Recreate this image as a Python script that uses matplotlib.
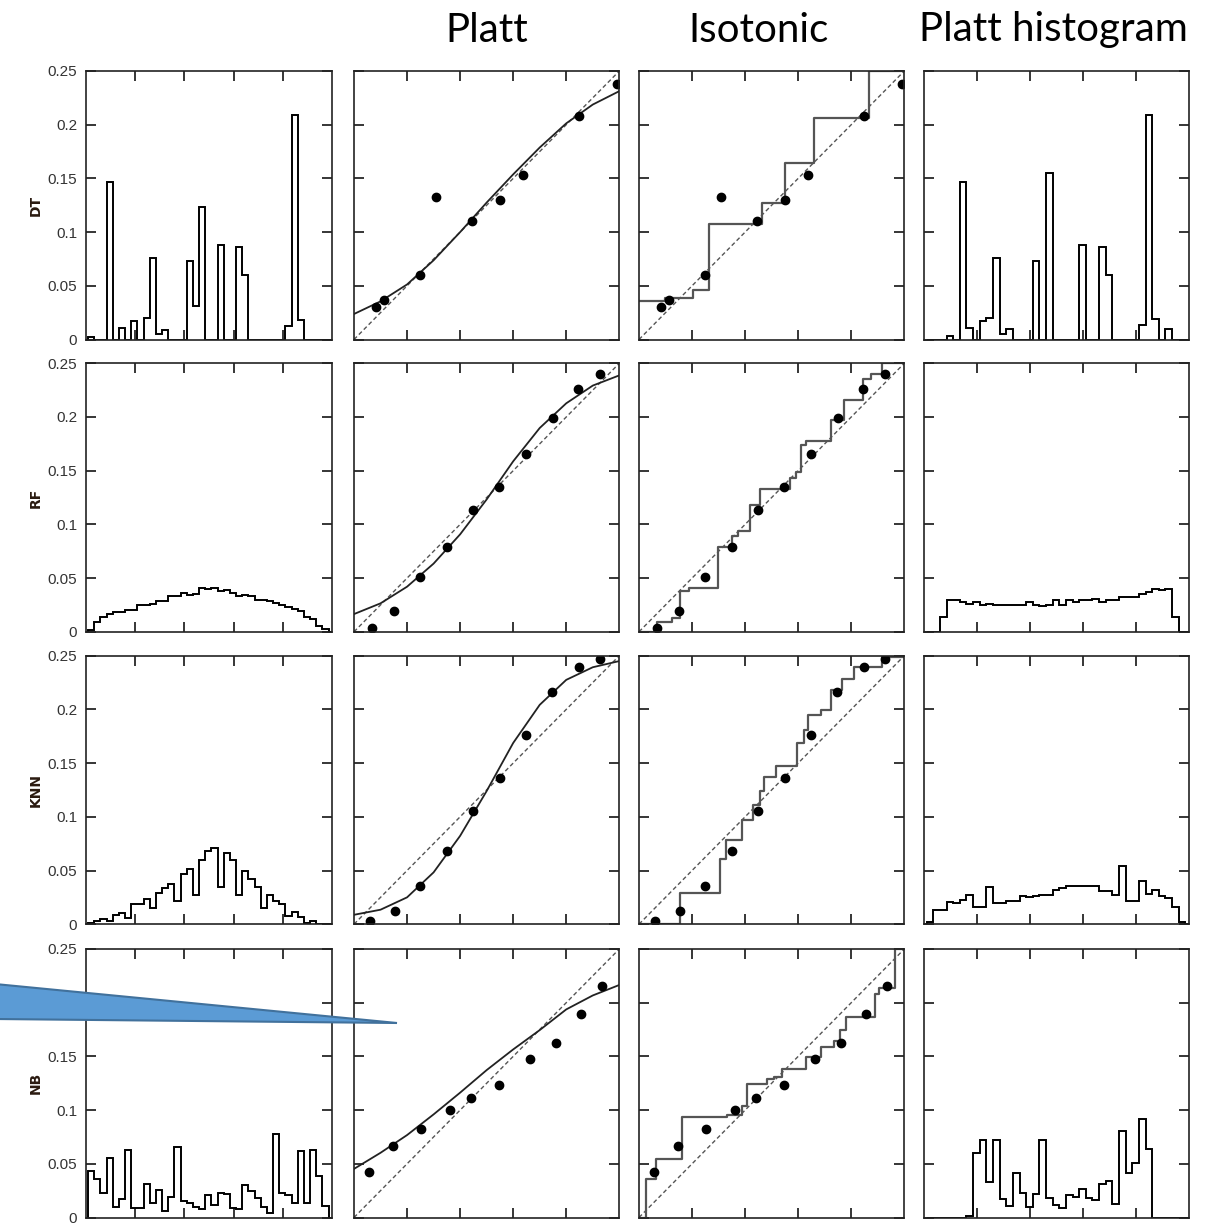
import numpy as np
import matplotlib
matplotlib.use("Agg")
import matplotlib.pyplot as plt
from matplotlib.patches import Polygon

# ---------- data ----------
models = ["DT", "RF", "KNN", "NB"]
col_titles = ["Platt", "Isotonic", "Platt histogram"]

# score histograms, 40 bins (fraction of examples per bin)
dt_hist = [0.0025, 0, 0, 0.147, 0, 0.0106, 0, 0.017, 0, 0.020,
           0.0755, 0.0047, 0.0093, 0, 0, 0, 0.073, 0.031, 0.1236, 0,
           0, 0.0879, 0, 0, 0.086, 0.0596, 0, 0, 0, 0,
           0, 0, 0.013, 0.2087, 0.0186, 0, 0, 0, 0, 0]
rf_hist = [0.0015, 0.0087, 0.014, 0.017, 0.018, 0.018, 0.020, 0.020, 0.025, 0.025,
           0.026, 0.029, 0.029, 0.033, 0.033, 0.0365, 0.034, 0.0356, 0.041, 0.040,
           0.041, 0.0377, 0.039, 0.0365, 0.033, 0.034, 0.033, 0.030, 0.030, 0.029,
           0.0266, 0.025, 0.0235, 0.021, 0.019, 0.014, 0.012, 0.0056, 0.0025, 0]
knn_hist = [0.0015, 0.003, 0.0053, 0.003, 0.0084, 0.0108, 0.0062, 0.0192, 0.0192, 0.0232,
            0.0152, 0.0294, 0.034, 0.0377, 0.0213, 0.047, 0.051, 0.027, 0.0594, 0.068,
            0.0705, 0.0347, 0.0665, 0.0594, 0.027, 0.0495, 0.0418, 0.035, 0.0152, 0.0272,
            0.0217, 0.0186, 0.0077, 0.0114, 0.0068, 0.0015, 0.003, 0.0006, 0, 0]
nb_hist = [0.0435, 0.0354, 0.023, 0.055, 0.010, 0.0168, 0.0627, 0.009, 0.009, 0.031,
           0.0137, 0.026, 0.0059, 0.0193, 0.0655, 0.0152, 0.0137, 0.010, 0.0075, 0.0205,
           0.0112, 0.023, 0.0217, 0.009, 0.0075, 0.0298, 0.0248, 0.0186, 0.010, 0.0043,
           0.0776, 0.023, 0.0205, 0.0137, 0.0618, 0.0137, 0.0627, 0.0388, 0.0109, 0]

# histograms after Platt scaling
dt_platt_hist = [0, 0, 0, 0.0028, 0, 0.147, 0.0109, 0, 0.017, 0.020,
                 0.0757, 0.005, 0.0096, 0, 0, 0, 0.073, 0, 0.155, 0,
                 0, 0, 0, 0.0878, 0, 0, 0.086, 0.060, 0, 0,
                 0, 0, 0.0133, 0.209, 0.019, 0, 0.0096, 0, 0, 0]
rf_platt_hist = [0, 0, 0.0139, 0.0293, 0.0293, 0.0278, 0.026, 0.0278, 0.0247, 0.026,
                 0.0247, 0.0247, 0.0247, 0.0247, 0.0247, 0.0278, 0.0247, 0.0238, 0.0253, 0.0293,
                 0.0247, 0.0293, 0.0278, 0.0293, 0.0293, 0.0302, 0.0278, 0.0293, 0.0293, 0.0324,
                 0.0324, 0.0324, 0.0355, 0.037, 0.040, 0.0386, 0.040, 0.0139, 0, 0]
knn_platt_hist = [0.0025, 0.0133, 0.0133, 0.021, 0.0195, 0.0226, 0.0275, 0.0158, 0.0158, 0.0343,
                  0.0195, 0.0195, 0.0219, 0.0219, 0.0266, 0.025, 0.0266, 0.0275, 0.0275, 0.032,
                  0.034, 0.0358, 0.0358, 0.0358, 0.0358, 0.0358, 0.031, 0.031, 0.027, 0.054,
                  0.0219, 0.0219, 0.040, 0.028, 0.032, 0.026, 0.024, 0.0158, 0.002, 0]
nb_platt_hist = [0, 0, 0, 0, 0, 0, 0.0016, 0.060, 0.072, 0.033,
                 0.072, 0.0168, 0.0109, 0.0416, 0.023, 0.010, 0.0217, 0.072, 0.0183, 0.0112,
                 0.0084, 0.0214, 0.0193, 0.027, 0.0177, 0.0161, 0.031, 0.0339, 0.0124, 0.0804,
                 0.0416, 0.0512, 0.0919, 0.0634, 0, 0, 0, 0, 0, 0]

# reliability points (mean score, fraction positive)
dt_pts_x = [0.082, 0.112, 0.25, 0.309, 0.445, 0.552, 0.637, 0.848, 0.99]
dt_pts_y = [0.121, 0.148, 0.240, 0.529, 0.441, 0.521, 0.613, 0.832, 0.953]
rf_pts_x = [0.066, 0.149, 0.248, 0.35, 0.448, 0.547, 0.65, 0.749, 0.846, 0.929]
rf_pts_y = [0.015, 0.078, 0.205, 0.314, 0.452, 0.540, 0.661, 0.797, 0.905, 0.960]
knn_pts_x = [0.059, 0.153, 0.25, 0.35, 0.449, 0.549, 0.648, 0.748, 0.847, 0.928]
knn_pts_y = [0.0136, 0.049, 0.141, 0.274, 0.422, 0.546, 0.703, 0.864, 0.958, 0.988]
nb_pts_x = [0.057, 0.147, 0.251, 0.363, 0.44, 0.545, 0.662, 0.761, 0.856, 0.936]
nb_pts_y = [0.168, 0.268, 0.328, 0.402, 0.445, 0.494, 0.591, 0.651, 0.758, 0.862]

# fitted Platt curves, read at x = 0, 0.1, ..., 1
platt_x = [0, 0.1, 0.2, 0.3, 0.4, 0.5, 0.6, 0.7, 0.8, 0.9, 1.0]
dt_platt_y = [0.095, 0.142, 0.205, 0.295, 0.400, 0.510, 0.615, 0.715, 0.805, 0.875, 0.925]
rf_platt_y = [0.066, 0.106, 0.168, 0.254, 0.363, 0.493, 0.635, 0.759, 0.851, 0.917, 0.955]
knn_platt_y = [0.035, 0.054, 0.100, 0.193, 0.329, 0.496, 0.675, 0.817, 0.910, 0.957, 0.980]
nb_platt_y = [0.181, 0.241, 0.307, 0.384, 0.465, 0.549, 0.626, 0.698, 0.775, 0.827, 0.866]

# isotonic step functions (value holds from x[i] to x[i+1])
dt_iso_x = [0, 0.098, 0.205, 0.265, 0.462, 0.55, 0.658, 0.867, 1.0]
dt_iso_y = [0.144, 0.154, 0.184, 0.432, 0.51, 0.659, 0.825, 1.0, 1.0]
rf_iso_x = [0, 0.067, 0.124, 0.156, 0.189, 0.297, 0.349, 0.373, 0.417, 0.455,
            0.569, 0.59, 0.609, 0.63, 0.725, 0.771, 0.846, 0.875, 0.917, 1.0]
rf_iso_y = [0, 0.037, 0.052, 0.151, 0.163, 0.317, 0.358, 0.377, 0.472, 0.53,
            0.574, 0.595, 0.694, 0.71, 0.79, 0.862, 0.943, 0.96, 1.0, 1.0]
knn_iso_x = [0, 0.153, 0.304, 0.329, 0.389, 0.431, 0.456, 0.471, 0.516, 0.594,
             0.622, 0.637, 0.686, 0.724, 0.764, 0.809, 0.917, 1.0]
knn_iso_y = [0, 0.115, 0.242, 0.313, 0.389, 0.443, 0.497, 0.549, 0.591, 0.675,
             0.724, 0.781, 0.799, 0.873, 0.915, 0.957, 0.995, 0.995]
nb_iso_x = [0, 0.025, 0.064, 0.163, 0.33, 0.387, 0.408, 0.481, 0.51, 0.538,
            0.629, 0.685, 0.735, 0.758, 0.78, 0.889, 0.906, 0.965, 1.0]
nb_iso_y = [0, 0.142, 0.219, 0.375, 0.381, 0.416, 0.499, 0.514, 0.524, 0.552,
            0.599, 0.634, 0.657, 0.698, 0.745, 0.832, 0.853, 1.0, 1.0]

hists = [dt_hist, rf_hist, knn_hist, nb_hist]
platt_hists = [dt_platt_hist, rf_platt_hist, knn_platt_hist, nb_platt_hist]
pts = [(dt_pts_x, dt_pts_y), (rf_pts_x, rf_pts_y), (knn_pts_x, knn_pts_y), (nb_pts_x, nb_pts_y)]
platt_curves = [dt_platt_y, rf_platt_y, knn_platt_y, nb_platt_y]
iso_steps = [(dt_iso_x, dt_iso_y), (rf_iso_x, rf_iso_y), (knn_iso_x, knn_iso_y), (nb_iso_x, nb_iso_y)]

# ---------- layout (pixels) ----------
W, H = 1222, 1224
fig = plt.figure(figsize=(W / 100, H / 100), dpi=100)
col_left = [85.7, 354, 639, 924]
col_w = [246.6, 265.3, 265.3, 265.3]
row_top = [71, 363.3, 655.7, 949]
row_h = 268.5

n_bins = 40
edges = (np.arange(n_bins + 1) + 0.4) / n_bins
tick_font = ["Liberation Sans Narrow", "Liberation Sans"]


def style(ax, ymax, labels):
    ax.set_xlim(0, 1)
    ax.set_ylim(0, ymax)
    ax.set_xticks([0.2, 0.4, 0.6, 0.8])
    ax.set_yticks(np.linspace(0, ymax, 6))
    ax.tick_params(direction="in", length=7, width=1.1, top=True, right=True,
                   labelbottom=False, labelleft=labels, pad=6, labelsize=11,
                   labelcolor="#333333")
    if labels:
        ax.set_yticklabels(["0", "0.05", "0.1", "0.15", "0.2", "0.25"], family=tick_font)
    for s in ax.spines.values():
        s.set_linewidth(1.2)
        s.set_color("#222222")


for r in range(4):
    axes = []
    for c in range(4):
        y0 = 1 - (row_top[r] + row_h) / H
        ax = fig.add_axes([col_left[c] / W, y0, col_w[c] / W, row_h / H])
        axes.append(ax)

    # raw score histogram
    ax = axes[0]
    ax.stairs(hists[r], edges, color="black", lw=1.4)
    style(ax, 0.25, True)
    fig.text(36 / W, 1 - (row_top[r] + row_h / 2) / H, models[r], rotation=90,
             ha="center", va="center", fontsize=10, fontweight="bold", color="#2a1a10")

    px, py = pts[r]
    # Platt fit
    ax = axes[1]
    ax.plot([0, 1], [0, 1], ls=(0, (3, 2)), color="#555555", lw=1.0)
    ax.plot(platt_x, platt_curves[r], color="#222222", lw=1.3)
    ax.plot(px, py, "o", color="black", ms=6)
    style(ax, 1, False)

    # isotonic fit
    ax = axes[2]
    ax.plot([0, 1], [0, 1], ls=(0, (3, 2)), color="#555555", lw=1.0)
    ix, iy = iso_steps[r]
    ax.step(ix, iy, where="post", color="#555555", lw=1.6)
    ax.plot(px, py, "o", color="black", ms=6)
    style(ax, 1, False)

    # histogram after Platt scaling
    ax = axes[3]
    ax.stairs(platt_hists[r], edges, color="black", lw=1.4)
    style(ax, 0.25, False)

for name, xc in zip(col_titles, [487, 759, 1053]):
    fig.text(xc / W, 1 - 30 / H, name, ha="center", va="center", fontsize=29, family="Lato")

# blue pointer shape over the NB row
tri = [(-5, 984), (397, 1023), (-5, 1019)]
fig.add_artist(Polygon([(x / W, 1 - y / H) for x, y in tri], closed=True,
                       transform=fig.transFigure, facecolor="#5b9bd5",
                       edgecolor="#41719c", lw=1.5, zorder=20))

fig.savefig("out.png", dpi=100)
